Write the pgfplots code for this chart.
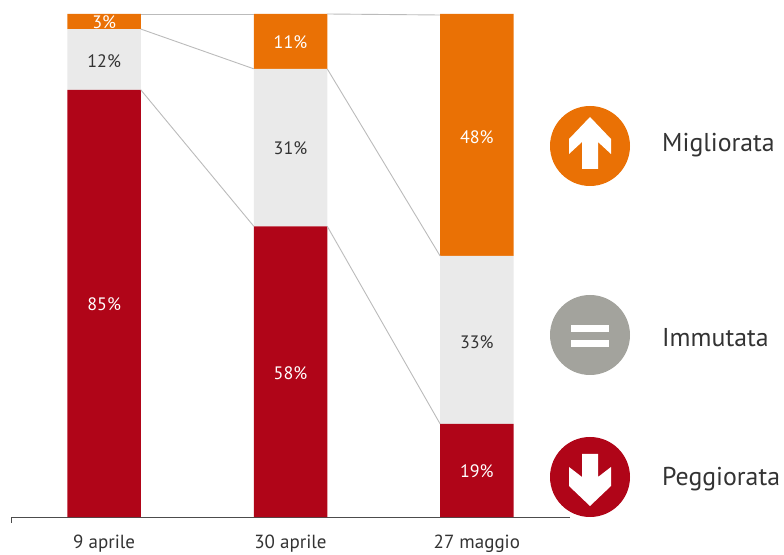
\documentclass[border=0pt]{standalone}
\usepackage{pgfplots}
\usepackage{fontspec}
\setmainfont{PT Sans}
\pgfplotsset{compat=1.18}
\definecolor{myorange}{HTML}{EA7105}
\definecolor{myred}{HTML}{B00518}
\definecolor{mylight}{HTML}{EAEAEA}
\definecolor{mycirc}{HTML}{A3A39D}
\definecolor{myline}{HTML}{BBBBBB}
\definecolor{mytext}{HTML}{333333}
\pgfplotsset{base/.style={
  scale only axis, width=559pt, height=503pt,
  xmin=-0.5, xmax=2.5, ymin=0, ymax=100, clip=false,
}}
\newcommand{\lab}{\fontsize{18}{20}\selectfont}
\newcommand{\tck}{\fontsize{19}{21}\selectfont}
\newcommand{\leg}{\fontsize{25.8}{28}\selectfont}
\begin{document}
\begin{tikzpicture}[x=1pt,y=1pt]
\path[use as bounding box] (-11,-37) rectangle (773,517);
\begin{axis}[base,
  ybar stacked, bar width=73.5pt,
  axis x line*=bottom, axis y line=none,
  axis line style={draw=black!70, line width=1pt, -},
  xtick={0,1,2}, xticklabels={9 aprile,30 aprile,27 maggio},
  major tick length=0pt,
  xticklabel style={font=\tck, text=mytext, yshift=-14pt},
]
\addplot[fill=myred,draw=none] coordinates {(0,84.9) (1,57.8) (2,18.5)};
\addplot[fill=mylight,draw=none] coordinates {(0,12.1) (1,31.3) (2,33.4)};
\addplot[fill=myorange,draw=none] coordinates {(0,3) (1,10.9) (2,48.1)};
\end{axis}
\begin{axis}[base, axis lines=none]
\addplot[myline,line width=0.9pt] coordinates {(0.197,84.9) (0.803,57.8)};
\addplot[myline,line width=0.9pt] coordinates {(0.197,97) (0.803,89.1)};
\addplot[myline,line width=0.9pt] coordinates {(0.197,100) (0.803,100)};
\addplot[myline,line width=0.9pt] coordinates {(1.197,57.8) (1.803,18.5)};
\addplot[myline,line width=0.9pt] coordinates {(1.197,89.1) (1.803,51.9)};
\addplot[myline,line width=0.9pt] coordinates {(1.197,100) (1.803,99.8)};
\addplot[only marks, mark=none, point meta=explicit symbolic, nodes near coords,
  every node near coord/.style={anchor=center,font=\lab,text=white}]
  coordinates {(0,42.3) [85\%] (0,98.3) [3\%] (1,28.5) [58\%] (1,94.3) [11\%] (2,9.1) [19\%] (2,75.6) [48\%]};
\addplot[only marks, mark=none, point meta=explicit symbolic, nodes near coords,
  every node near coord/.style={anchor=center,font=\lab,text=mytext}]
  coordinates {(0,90.7) [12\%] (1,73.3) [31\%] (2,34.8) [33\%]};
\end{axis}
% left end tick of the baseline
\draw[black!70,line width=1pt] (0,0) -- (0,-6);
% legend icons
\begin{scope}[shift={(579,371)}]
\fill[myorange] (0,0) circle (40);
\fill[white] (0,29) -- (21,7) -- (21,-8) -- (8,4) -- (8,-23) -- (-8,-23) -- (-8,4) -- (-21,-8) -- (-21,7) -- cycle;
\end{scope}
\begin{scope}[shift={(579,182)}]
\fill[mycirc] (0,0) circle (40);
\fill[white] (-19,3) rectangle (19,9.5);
\fill[white] (-19,-5) rectangle (19,-12);
\end{scope}
\begin{scope}[shift={(579,40)}]
\fill[myred] (0,0) circle (40);
\fill[white] (-8,23) -- (8,23) -- (8,0) -- (21,10) -- (21,-9) -- (0,-29) -- (-21,-9) -- (-21,10) -- (-8,0) -- cycle;
\end{scope}
\node[anchor=west,inner sep=0pt,font=\leg,text=mytext] at (651,372) {Migliorata};
\node[anchor=west,inner sep=0pt,font=\leg,text=mytext] at (651,179) {Immutata};
\node[anchor=west,inner sep=0pt,font=\leg,text=mytext] at (651,38) {Peggiorata};
\end{tikzpicture}
\end{document}
